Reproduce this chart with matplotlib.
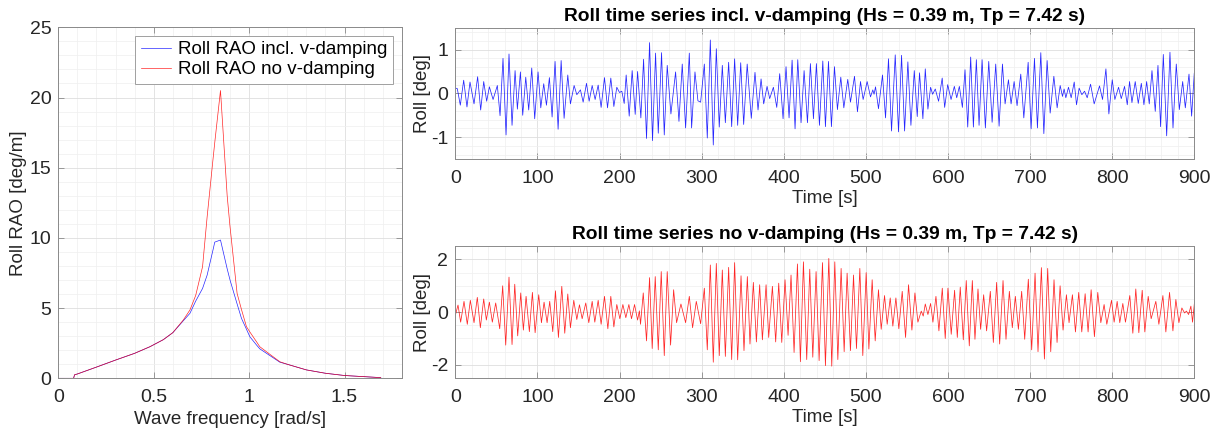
import numpy as np
import matplotlib
matplotlib.use("Agg")
import matplotlib.pyplot as plt
from matplotlib.ticker import MultipleLocator, FormatStrFormatter

plt.rcParams["font.family"] = ["Liberation Sans", "DejaVu Sans"]
plt.rcParams["font.size"] = 13.5

# RAO curves
freq = [0, 0.08, 0.085, 0.1, 0.2, 0.3, 0.4, 0.48, 0.55, 0.6, 0.655, 0.69, 0.72,
        0.756, 0.78, 0.81, 0.82, 0.85, 0.885, 0.9, 0.937, 0.96, 0.986, 1.004,
        1.039, 1.056, 1.1, 1.161, 1.2, 1.3, 1.4, 1.5, 1.6, 1.69]
rao_vdamp = [0, 0, 0.25, 0.31, 0.8, 1.3, 1.78, 2.25, 2.75, 3.25, 4.1, 4.63, 5.5,
             6.4, 7.35, 9.1, 9.7, 9.85, 7.8, 7.0, 5.3, 4.27, 3.5, 2.96,
             2.37, 2.1, 1.7, 1.15, 1.0, 0.6, 0.36, 0.2, 0.12, 0.05]
rao_nodamp = [0, 0, 0.25, 0.31, 0.8, 1.3, 1.78, 2.25, 2.75, 3.25, 4.15, 4.87, 5.9,
              7.95, 11.5, 15.5, 16.8, 20.5, 13.0, 10.8, 6.05, 4.9, 3.68, 3.3,
              2.6, 2.25, 1.8, 1.18, 1.0, 0.6, 0.36, 0.2, 0.12, 0.05]

# roll time series incl. v-damping: successive peaks/troughs (time, deg)
t_v = [0, 2.4, 6.1, 10.2, 14.2, 17.9, 22.8, 27.2, 30.9, 34.6, 38.2, 41.5, 46.0, 51.2,
       54.5, 58.1, 61.8, 65.4, 69.1, 72.8, 75.6, 79.3, 82.1, 85.8, 89.4, 93.1, 96.7,
       100.8, 104.1, 107.7, 111.0, 114.6, 117.9, 121.5, 125.2, 128.9, 132.5, 137.0,
       140.2, 144.7, 148.0, 152.4, 155.7, 159.8, 163.0, 166.7, 170.3, 174.0, 177.6,
       181.7, 185.4, 189.4, 193.1, 196.7, 200.0, 202.8, 205.7, 208.1, 211.8, 215.4,
       219.1, 222.0, 226.0, 229.3, 232.9, 236.6, 240.2, 243.9, 247.2, 251.2, 254.5,
       258.1, 262.6, 268.3, 272.4, 276.4, 280.5, 285.0, 287.8, 291.9, 295.5, 298.8,
       303.3, 306.9, 310.6, 314.2, 317.9, 321.5, 325.2, 328.9, 332.9, 336.6, 340.2,
       343.9, 347.6, 351.2, 355.5, 360.5, 365.0, 368.7, 372.4, 375.6, 379.7, 382.9,
       387.4, 391.5, 395.1, 399.2, 402.8, 406.5, 410.2, 413.8, 417.1, 421.1, 424.8,
       428.9, 432.5, 436.2, 439.8, 443.5, 447.6, 450.8, 454.5, 458.1, 461.8, 465.4,
       469.5, 473.2, 478.0, 481.3, 486.2, 489.8, 493.5, 496.7, 501.6, 505.7, 508.5,
       510.0, 511.8, 515.4, 520.3, 524.0, 527.6, 531.3, 535.8, 539.8, 543.5, 547.2,
       551.2, 554.9, 559.0, 562.6, 565.4, 569.5, 572.4, 575.6, 578.9, 581.3, 584.6,
       588.6, 593.0, 596.0, 599.7, 603.8, 607.8, 610.7, 613.9, 617.6, 620.8, 624.1,
       627.7, 631.0, 634.6, 637.9, 641.6, 645.6, 649.7, 653.8, 658.2, 662.3, 666.4,
       669.6, 673.7, 676.9, 680.6, 684.2, 688.7, 692.4, 697.7, 701.3, 705.4, 709.0,
       713.1, 716.8, 720.8, 724.5, 729.0, 733.0, 736.7, 739.5, 741.5, 743.6, 746.8,
       750.1, 753.8, 756.6, 759.8, 763.1, 766.4, 769.6, 773.7, 778.1, 784.6, 788.3,
       792.4, 796.0, 800.1, 803.3, 807.8, 811.1, 815.1, 818.4, 821.2, 824.1, 828.1,
       831.8, 835.5, 838.7, 842.0, 845.2, 848.5, 852.5, 855.8, 859.0, 862.3, 866.4,
       870.4, 874.1, 878.1, 881.8, 885.9, 889.1, 893.6, 896.8, 900.0]
roll_v = [0.12, 0.11, -0.27, 0.30, -0.31, 0.26, -0.24, 0.38, -0.38, 0.27, -0.18, 0.15,
          -0.14, 0.18, -0.51, 0.80, -0.95, 0.90, -0.73, 0.52, -0.36, 0.49, -0.50, 0.37,
          -0.38, 0.58, -0.58, 0.49, -0.33, 0.22, -0.27, 0.36, -0.54, 0.73, -0.82, 0.75,
          -0.57, 0.42, -0.24, 0.18, -0.03, 0.08, -0.20, 0.23, -0.18, 0.18, -0.14, 0.19,
          -0.32, 0.36, -0.33, 0.35, -0.30, 0.14, 0.02, 0.05, -0.23, 0.42, -0.52, 0.52,
          -0.48, 0.50, -0.56, 0.78, -1.03, 1.16, -1.08, 0.92, -0.91, 0.93, -0.95, 0.64,
          -0.47, 0.49, -0.64, 0.67, -0.79, 0.92, -0.79, 0.49, -0.17, -0.20, 0.67, -1.02,
          1.22, -1.18, 1.02, -0.77, 0.64, -0.67, 0.71, -0.76, 0.79, -0.73, 0.70, -0.71,
          0.67, -0.57, 0.48, -0.38, 0.33, -0.24, 0.16, -0.12, 0.14, -0.32, 0.45, -0.58,
          0.61, -0.56, 0.76, -0.81, 0.77, -0.67, 0.52, -0.67, 0.68, -0.58, 0.68, -0.73,
          0.74, -0.76, 0.73, -0.76, 0.61, -0.37, 0.37, -0.33, 0.32, -0.20, 0.39, -0.42,
          0.27, -0.14, 0.27, -0.08, 0.08, -0.02, 0.15, -0.35, 0.42, -0.56, 0.79, -0.86,
          0.88, -0.88, 0.87, -0.86, 0.72, -0.73, 0.52, -0.53, 0.47, -0.58, 0.56, -0.36,
          0.14, -0.02, 0.10, -0.18, 0.35, -0.32, 0.20, -0.14, 0.16, -0.10, 0.16, -0.32,
          0.54, -0.77, 0.83, -0.77, 0.77, -0.73, 0.77, -0.79, 0.73, -0.66, 0.67, -0.75,
          0.67, -0.24, 0.31, -0.24, 0.27, -0.28, 0.44, -0.56, 0.71, -0.81, 0.80, -0.79,
          0.93, -0.92, 0.75, -0.45, 0.39, -0.33, 0.18, -0.07, 0.10, -0.10, 0.14, -0.10,
          0.26, -0.26, 0.12, -0.03, 0.05, -0.10, 0.21, -0.24, 0.17, -0.14, 0.56, -0.47,
          0.31, -0.14, 0.14, -0.12, 0.16, -0.26, 0.27, -0.21, 0.27, -0.23, 0.23, -0.26,
          0.27, -0.24, 0.52, -0.41, 0.64, -0.76, 0.89, -0.97, 0.94, -0.79, 0.67, -0.37,
          0.27, -0.33, 0.44, -0.52, 0.46]

# roll time series without v-damping: successive peaks/troughs (time, deg)
t_n = [0, 3.3, 6.5, 10.6, 14.6, 18.3, 22.8, 26.8, 30.5, 34.6, 37.8, 41.5, 45.1, 49.2,
       54.1, 57.7, 61.4, 65.4, 69.1, 72.4, 76.0, 79.7, 82.9, 86.2, 90.2, 93.9, 97.2,
       101.6, 104.9, 108.1, 111.8, 115.0, 118.7, 122.0, 125.6, 129.7, 133.3, 137.0,
       140.2, 144.3, 148.0, 151.2, 154.5, 158.9, 162.6, 166.7, 169.9, 174.0, 177.6,
       181.7, 185.8, 189.4, 193.1, 196.7, 200.4, 204.1, 207.7, 211.4, 214.6, 218.3,
       222.0, 224.2, 225.6, 228.9, 232.9, 236.6, 239.8, 243.5, 247.2, 250.8, 254.5,
       258.1, 262.2, 265.9, 269.5, 274.8, 280.5, 285.0, 289.0, 293.5, 298.8,
       303.3, 306.9, 310.6, 314.2, 317.9, 321.5, 325.2, 328.9, 332.9, 336.6, 340.2,
       343.9, 348.0, 351.6, 355.7, 358.9, 363.0, 366.7, 370.7, 374.0, 378.5, 381.7,
       386.2, 390.2, 393.9, 397.6, 401.6, 405.3, 408.9, 412.6, 416.7, 420.3, 424.0,
       428.0, 431.7, 435.4, 439.4, 443.1, 447.2, 450.8, 454.9, 458.5, 462.2, 465.9,
       469.9, 473.6, 477.2, 481.3, 485.0, 488.6, 492.7, 496.3, 500.4, 503.7, 507.7,
       511.4, 515.4, 518.7, 522.8, 526.0, 529.7, 532.9, 536.6, 540.2, 544.3, 548.4,
       552.0, 556.1, 559.8, 563.4, 567.5, 569.9, 572.4, 575.6, 578.9, 581.7, 585.4,
       589.0, 593.1, 596.7, 600.0, 604.0, 608.1, 611.4, 615.0, 618.7, 622.3, 626.0,
       629.7, 632.9, 636.6, 639.8, 643.5, 647.1, 651.6, 655.3, 659.3, 663.0, 667.1,
       670.7, 674.8, 678.4, 682.1, 685.8, 689.8, 693.5, 697.9, 702.0, 706.1, 709.7,
       713.8, 717.5, 721.5, 725.2, 729.2, 732.9, 736.6, 740.2, 744.3, 747.5, 751.6,
       755.3, 759.3, 763.0, 767.1, 770.7, 774.4, 778.4, 782.5, 786.2, 790.2, 793.5,
       799.2, 802.4, 806.1, 809.3, 813.0, 816.2, 821.5, 825.2, 828.8, 832.5, 836.6,
       839.8, 843.9, 847.5, 853.2, 856.9, 861.8, 865.4, 869.9, 874.0, 877.6, 881.3,
       884.9, 888.2, 890.5, 893.1, 895.9, 897.9, 900.8]
roll_n = [-0.12, 0.27, -0.38, 0.41, -0.46, 0.45, -0.40, 0.56, -0.59, 0.50, -0.30, 0.38,
          -0.38, 0.35, -0.63, 1.00, -1.25, 1.33, -1.23, 1.06, -0.90, 0.73, -0.68, 0.60,
          -0.74, 0.75, -0.78, 0.66, -0.40, 0.38, -0.40, 0.41, -0.74, 0.81, -0.96, 0.98,
          -0.80, 0.69, -0.59, 0.45, -0.28, 0.28, -0.25, 0.35, -0.40, 0.41, -0.38, 0.45,
          -0.46, 0.60, -0.63, 0.60, -0.56, 0.29, -0.25, 0.29, -0.21, 0.29, -0.25, 0.29,
          -0.30, 0.05, -0.46, 0.73, -1.09, 1.31, -1.38, 1.35, -1.43, 1.54, -1.65, 1.54,
          -1.25, 0.85, -0.40, 0.31, -0.40, 0.60, -0.59, 0.41, -0.44,
          0.91, -1.43, 1.79, -1.90, 1.85, -1.65, 1.60, -1.68, 1.70, -1.80, 1.88, -1.81,
          1.38, -1.46, 1.35, -1.21, 1.13, -1.13, 1.04, -1.05, 1.04, -0.96, 0.98, -1.13,
          1.10, -1.15, 1.23, -0.88, 1.41, -1.53, 1.83, -1.88, 1.91, -1.80, 1.63, -1.71,
          1.54, -1.84, 1.88, -2.03, 2.04, -2.05, 1.91, -1.80, 1.66, -1.50, 1.48, -1.46,
          1.41, -1.38, 1.66, -1.65, 1.50, -1.40, 1.23, -1.09, 0.85, -0.65, 0.63, -0.46,
          0.54, -0.53, 0.54, -0.63, 0.79, -0.96, 1.04, -0.68, 0.73, -0.38, 0.04, -0.15,
          0.31, -0.09, 0.33, -0.38, 0.60, -0.71, 0.91, -1.00, 0.91, -0.84, 0.83, -0.96,
          0.95, -1.05, 1.20, -1.28, 1.20, -1.03, 0.88, -0.65, 0.66, -0.71, 0.79, -1.15,
          1.13, -1.21, 1.20, -1.03, 0.79, -0.59, 0.60, -0.65, 0.79, -1.03, 1.25, -1.43,
          1.48, -1.50, 1.69, -1.78, 1.66, -1.50, 1.23, -1.15, 1.00, -0.68, 0.66, -0.40,
          0.66, -0.75, 0.75, -0.75, 0.70, -0.75, 0.85, -0.93, 0.75, -0.40, 0.29, -0.46,
          0.45, -0.38, 0.41, -0.40, 0.33, -0.38, 0.63, -0.80, 0.88, -0.78, 0.83, -0.75,
          0.60, -0.25, 0.41, -0.46, 0.63, -0.75, 0.75, -0.71, 0.48, -0.40, 0.16, -0.03,
          0.04, -0.09, 0.23, -0.38, 0.54]

title_v = "Roll time series incl. v-damping (Hs = 0.39 m, Tp = 7.42 s)"
title_n = "Roll time series no v-damping (Hs = 0.39 m, Tp = 7.42 s)"

edge = "#8a8a8a"
txt = "#262626"


def matlab_style(ax, major_x, minor_x, major_y, minor_y):
    ax.xaxis.set_major_locator(MultipleLocator(major_x))
    ax.xaxis.set_minor_locator(MultipleLocator(minor_x))
    ax.yaxis.set_major_locator(MultipleLocator(major_y))
    ax.yaxis.set_minor_locator(MultipleLocator(minor_y))
    ax.xaxis.set_major_formatter(FormatStrFormatter("%g"))
    ax.yaxis.set_major_formatter(FormatStrFormatter("%g"))
    ax.grid(which="major", color="#dedede", linewidth=0.6)
    ax.grid(which="minor", color="#efefef", linewidth=0.5)
    ax.set_axisbelow(True)
    ax.tick_params(which="major", direction="in", length=4, width=0.6,
                   top=True, right=True, colors=edge, labelcolor=txt, labelsize=14)
    ax.tick_params(axis="x", which="major", pad=8)
    ax.tick_params(axis="y", which="major", pad=5)
    ax.tick_params(which="minor", length=0, top=True, right=True)
    for s in ax.spines.values():
        s.set_color(edge)
        s.set_linewidth(0.7)


fig = plt.figure(figsize=(12.2, 4.34), dpi=100)

ax1 = fig.add_axes([0.0478, 0.1283, 0.2815, 0.8088])
ax1.plot(freq, rao_vdamp, color="blue", linewidth=0.5, alpha=0.85, label="Roll RAO incl. v-damping")
ax1.plot(freq, rao_nodamp, color="red", linewidth=0.5, alpha=0.85, label="Roll RAO no v-damping")
ax1.set_xlim(0, 1.8)
ax1.set_ylim(0, 25)
matlab_style(ax1, 0.5, 0.1, 5, 1)
ax1.set_xlabel("Wave frequency [rad/s]", color=txt, labelpad=3)
ax1.set_ylabel("Roll RAO [deg/m]", color=txt, labelpad=2)
leg = ax1.legend(loc="upper right", fancybox=False, framealpha=1, edgecolor="#a0a0a0",
                 fontsize=13.5, handlelength=1.6, borderpad=0.3, labelspacing=0.15,
                 handletextpad=0.4, borderaxespad=0.45)
leg.get_frame().set_linewidth(0.7)

ax2 = fig.add_axes([0.3732, 0.6336, 0.6057, 0.3025])
ax2.plot(t_v, roll_v, color="blue", linewidth=0.55, alpha=0.85)
ax2.set_xlim(0, 900)
ax2.set_ylim(-1.5, 1.5)
matlab_style(ax2, 100, 20, 1, 0.2)
ax2.set_xlabel("Time [s]", color=txt, labelpad=2)
ax2.set_ylabel("Roll [deg]", color=txt, labelpad=0)
ax2.set_title(title_v, fontweight="bold", fontsize=13.8, pad=5)

ax3 = fig.add_axes([0.3732, 0.129, 0.6057, 0.3035])
ax3.plot(t_n, roll_n, color="red", linewidth=0.55, alpha=0.85)
ax3.set_xlim(0, 900)
ax3.set_ylim(-2.5, 2.5)
matlab_style(ax3, 100, 20, 2, 0.5)
ax3.set_xlabel("Time [s]", color=txt, labelpad=2)
ax3.set_ylabel("Roll [deg]", color=txt, labelpad=0)
ax3.set_title(title_n, fontweight="bold", fontsize=13.8, pad=5)

fig.savefig("out.png", dpi=100)
